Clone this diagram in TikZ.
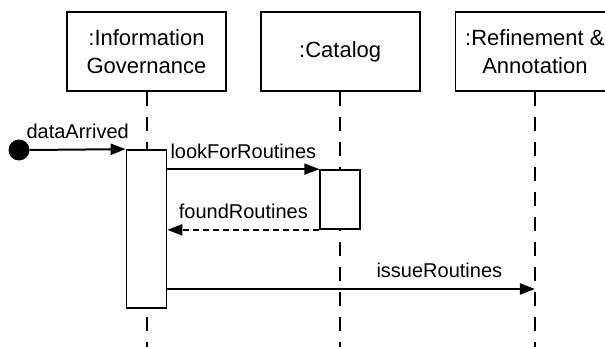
\documentclass[tikz,border=0pt]{standalone}
\usepackage{fontspec}
\setmainfont{Liberation Sans}
\usetikzlibrary{arrows.meta, positioning}

\begin{document}
\begin{tikzpicture}[
    x=1pt, y=1pt,
    node distance=33pt,
    head/.style={rectangle, draw, line width=1.7pt, minimum width=159pt, minimum height=79pt, align=center, font=\fontsize{22}{28}\selectfont},
    act/.style={rectangle, draw, fill=white, line width=1.7pt, minimum width=40pt, inner sep=0pt},
    life/.style={line width=2pt, dash pattern=on 14pt off 11pt},
    msg/.style={line width=2pt, -{Triangle[length=15pt, width=11pt]}},
    reply/.style={msg, dash pattern=on 6pt off 4pt},
    lbl/.style={anchor=base, yshift=11pt},
    every node/.style={font=\fontsize{20}{27}\selectfont}
]
\useasboundingbox (0,0) rectangle (605,-347);

% Heads
\node[head] (gov) at (146.5,-51.5) {:Information\\Governance};
\node[head, right=of gov] (cat) {:Catalog};
\node[head, right=34pt of cat] (ref) {:Refinement \&\\Annotation};

% Lifelines
\coordinate (bottom) at (0,-347);
\draw[life] (gov.south) -- (gov.south |- bottom);
\draw[life] (cat.south) -- (cat.south |- bottom);
\draw[life] (ref.south) -- (ref.south |- bottom);

% Activations
\node[act, minimum height=158pt] (govact) at (gov |- 0,-229) {};
\node[act, minimum height=59pt] (catact) at (cat |- 0,-199.5) {};
\node[circle, fill, inner sep=0pt, minimum size=21pt] (start) at (19,-150) {};

% Messages
\draw[msg] (start.east) -- node[lbl] {dataArrived} (govact.north west);
\draw[msg] (govact.east |- catact.north) -- node[lbl] {lookForRoutines} (catact.north west);
\draw[reply] (catact.south west) -- node[lbl] {foundRoutines} (govact.east |- catact.south);
\coordinate (issue) at (ref |- 0,-289);
\draw[msg] (govact.east |- issue) -- node[lbl, pos=0.74] {issueRoutines} (issue);

\end{tikzpicture}
\end{document}
